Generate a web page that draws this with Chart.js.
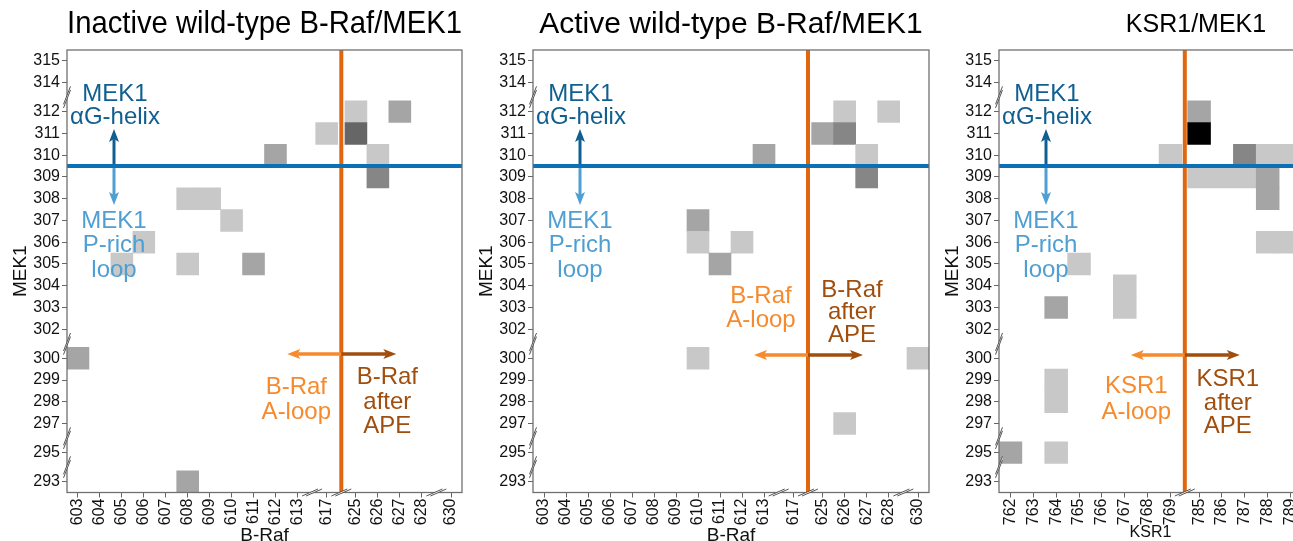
<!DOCTYPE html>
<html><head><meta charset="utf-8">
<script src="https://cdn.jsdelivr.net/npm/chart.js@4.4.1/dist/chart.umd.min.js"></script>
<style>
html,body{margin:0;padding:0;background:#fff;width:1293px;height:541px;overflow:hidden;position:relative}
canvas{position:absolute;top:0}
</style></head><body>
<canvas id="c1" width="470" height="560" style="left:0px"></canvas>
<canvas id="c2" width="470" height="560" style="left:466px"></canvas>
<canvas id="c3" width="375" height="560" style="left:932px"></canvas>
<script>
// ---------- axis categories ----------
const mek1Residues = [315,314,312,311,310,309,308,307,306,305,304,303,302,300,299,298,297,295,293];
const brafResidues = [603,604,605,606,607,608,609,610,611,612,613,617,625,626,627,628,630];
const ksr1Residues = [762,763,764,765,766,767,768,769,785,786,787,788,789];

// ---------- cells (x residue, MEK1 residue, contact level 1..5) ----------
const inactiveBRaf  = [625,627,617,625,612,626,626,608,609,610,606,605,608,611,603,608];
const inactiveMEK1  = [312,312,311,311,310,310,309,308,308,307,306,305,305,305,300,293];
const inactiveLevel = [1,2,1,4,2,1,3,1,1,1,1,1,1,2,2,2];

const activeBRaf  = [626,628,625,626,613,627,627,610,610,612,611,610,630,626];
const activeMEK1  = [312,312,311,311,310,310,309,307,306,306,305,300,300,297];
const activeLevel = [1,1,2,3,2,1,3,2,1,1,2,1,1,1];

const ksrKSR1  = [785,785,769,787,788,789,785,786,787,788,788,788,789,765,767,764,767,764,764,762,764];
const ksrMEK1  = [312,311,310,310,310,310,309,309,309,309,308,306,306,305,304,303,303,299,298,295,295];
const ksrLevel = [2,5,1,3,1,1,1,1,1,2,2,1,1,1,1,2,1,1,1,2,1];

const FONT = '"Liberation Sans", Arial, Helvetica, sans-serif';
const shadeColors = {1:'#c8c8c8', 2:'#a5a5a5', 3:'#868686', 4:'#666666', 5:'#000000'};
const BLUE = '#0b70b5', ORANGE = '#e0670f';
const DARKBLUE = '#105f90', LIGHTBLUE = '#4f9fd3', LIGHTORANGE = '#f68a2c', DARKORANGE = '#a04e0d';

function axisPositions(res, brk) {
  const out = []; let p = 0;
  res.forEach((r, i) => { if (i > 0) p += (Math.abs(r - res[i-1]) > 1 ? brk : 1); out.push(p); });
  return out;
}

function arrow(ctx, x1, y1, x2, y2, color, w, hl, hw) {
  const ang = Math.atan2(y2 - y1, x2 - x1);
  const c = Math.cos(ang), s = Math.sin(ang);
  const bx = x2 - hl * c, by = y2 - hl * s;
  ctx.save();
  ctx.strokeStyle = color; ctx.fillStyle = color; ctx.lineWidth = w;
  ctx.beginPath(); ctx.moveTo(x1, y1); ctx.lineTo(bx + c, by + s); ctx.stroke();
  const nx = -s, ny = c;
  ctx.beginPath();
  ctx.moveTo(x2, y2);
  ctx.lineTo(bx + nx * hw / 2 - c * 2, by + ny * hw / 2 - s * 2);
  ctx.lineTo(bx + c, by + s);
  ctx.lineTo(bx - nx * hw / 2 - c * 2, by - ny * hw / 2 - s * 2);
  ctx.closePath(); ctx.fill();
  ctx.restore();
}

function textLines(ctx, lines, cx, ys, color, size) {
  ctx.save();
  ctx.fillStyle = color; ctx.font = (size || 24) + 'px ' + FONT;
  ctx.textAlign = 'center'; ctx.textBaseline = 'middle';
  lines.forEach((t, i) => ctx.fillText(t, cx, ys[i]));
  ctx.restore();
}

function breakMarks(ctx, pts, horizontal) {
  ctx.save();
  ctx.strokeStyle = '#555'; ctx.lineWidth = 1;
  pts.forEach(([x, y]) => {
    let a, b, s;
    if (horizontal) { a = [-8, 3.5]; b = [8, -3.5]; s = [2, 0]; }
    else { a = [-3.5, 9]; b = [3.5, -9]; s = [0, 1.8]; }
    ctx.fillStyle = '#fff';
    ctx.beginPath();
    ctx.moveTo(x + a[0] - s[0], y + a[1] + s[1]);
    ctx.lineTo(x + b[0] - s[0], y + b[1] + s[1]);
    ctx.lineTo(x + b[0] + s[0], y + b[1] - s[1]);
    ctx.lineTo(x + a[0] + s[0], y + a[1] - s[1]);
    ctx.closePath(); ctx.fill();
    [-1, 1].forEach(k => {
      ctx.beginPath();
      ctx.moveTo(x + a[0] + k * s[0], y + a[1] - k * s[1]);
      ctx.lineTo(x + b[0] + k * s[0], y + b[1] - k * s[1]);
      ctx.stroke();
    });
  });
  ctx.restore();
}

const panels = [
  { id: 'c1', title: 'Inactive wild-type B-Raf/MEK1', titleSize: 30.5, titleByPlugin: false, xRes: brafResidues, xBreak: 4/3,
    xTitle: 'B-Raf', xTitleSize: 19, xTitlePad: 13, padRight: 8,
    cx: inactiveBRaf, cy: inactiveMEK1, lv: inactiveLevel, apeLeft: 617, apeRight: 625,
    orange: { arrowY: 304, light: ['B-Raf','A-loop'], lightDx: -45, lightY: [337.5, 362],
              dark: ['B-Raf','after','APE'], darkDx: 46, darkY: [327.5, 352, 376.5] } },
  { id: 'c2', title: 'Active wild-type B-Raf/MEK1', titleSize: 30, titleByPlugin: false, xRes: brafResidues, xBreak: 4/3,
    xTitle: 'B-Raf', xTitleSize: 19, xTitlePad: 13, padRight: 7,
    cx: activeBRaf, cy: activeMEK1, lv: activeLevel, apeLeft: 617, apeRight: 625,
    orange: { arrowY: 305, light: ['B-Raf','A-loop'], lightDx: -47, lightY: [246, 270.5],
              dark: ['B-Raf','after','APE'], darkDx: 44, darkY: [240, 262.5, 285.3] } },
  { id: 'c3', title: 'KSR1/MEK1', titleSize: 25, titleByPlugin: true, titleDx: 197, xRes: ksr1Residues, xBreak: 1.25,
    xTitle: 'KSR1', xTitleSize: 16, xTitlePad: 18, padRight: 5,
    cx: ksrKSR1, cy: ksrMEK1, lv: ksrLevel, apeLeft: 769, apeRight: 785,
    orange: { arrowY: 305, light: ['KSR1','A-loop'], lightDx: -48.5, lightY: [336, 362],
              dark: ['KSR1','after','APE'], darkDx: 43, darkY: [329, 353.5, 376.5] } }
];

panels.forEach(p => {
  const xPos = axisPositions(p.xRes, p.xBreak);
  const yPos = axisPositions(mek1Residues, 4/3);
  const xOf = r => xPos[p.xRes.indexOf(r)];
  const yOf = r => yPos[mek1Residues.indexOf(r)];
  const cells = p.cx.map((x, i) => ({ x: xOf(x), y: [yOf(p.cy[i]) - 0.5, yOf(p.cy[i]) + 0.5] }));
  const colors = p.lv.map(l => shadeColors[l]);
  const yMin = -0.5, yMax = yPos[yPos.length - 1] + 0.5;
  const xMin = -0.5, xMax = xPos[xPos.length - 1] + 0.5;
  const helixY = (yOf(310) + yOf(309)) / 2;
  const apeX = (xOf(p.apeLeft) + xOf(p.apeRight)) / 2;
  const yBreaks = [], xBreaks = [];
  mek1Residues.forEach((r, i) => { if (i > 0 && Math.abs(r - mek1Residues[i-1]) > 1) yBreaks.push((yPos[i] + yPos[i-1]) / 2); });
  p.xRes.forEach((r, i) => { if (i > 0 && Math.abs(r - p.xRes[i-1]) > 1) xBreaks.push((xPos[i] + xPos[i-1]) / 2); });
  const titlePad = (50 - p.titleSize * 1.2) / 2;

  const decor = {
    id: 'decor' + p.id,
    afterDatasetsDraw(chart) {
      const ctx = chart.ctx, a = chart.chartArea, xs = chart.scales.x, ys = chart.scales.y;
      ctx.save();
      ctx.strokeStyle = '#707070'; ctx.lineWidth = 1.3;
      ctx.strokeRect(a.left, a.top, a.right - a.left, a.bottom - a.top);
      ctx.restore();
      breakMarks(ctx, yBreaks.map(v => [a.left, ys.getPixelForValue(v)]), false);
      breakMarks(ctx, xBreaks.map(v => [xs.getPixelForValue(v), a.bottom]), true);
      const hy = ys.getPixelForValue(helixY);
      const bx = a.left + 47;
      arrow(ctx, bx, hy - 2, bx, hy - 37, DARKBLUE, 3, 11, 10);
      arrow(ctx, bx, hy + 2, bx, hy + 39, LIGHTBLUE, 3, 11, 10);
      textLines(ctx, ['MEK1', 'αG-helix'], bx + 1, [hy - 72, hy - 49], DARKBLUE);
      textLines(ctx, ['MEK1', 'P-rich', 'loop'], bx, [hy + 55, hy + 79.5, hy + 104], LIGHTBLUE);
      const ox = xs.getPixelForValue(apeX), o = p.orange;
      const ay = a.top + o.arrowY;
      arrow(ctx, ox, ay, ox - 54, ay, LIGHTORANGE, 3.5, 11, 10);
      arrow(ctx, ox, ay, ox + 55, ay, DARKORANGE, 3.5, 11, 10);
      textLines(ctx, o.light, ox + o.lightDx, o.lightY.map(v => a.top + v), LIGHTORANGE);
      textLines(ctx, o.dark, ox + o.darkDx, o.darkY.map(v => a.top + v), DARKORANGE);
      if (p.titleByPlugin) textLines(ctx, [p.title], a.left + p.titleDx, [25], '#000', p.titleSize);
    }
  };

  new Chart(document.getElementById(p.id), {
    type: 'bar',
    data: {
      datasets: [
        { type: 'line', data: [{ x: xMin, y: helixY }, { x: xMax, y: helixY }], borderColor: BLUE, borderWidth: 4, pointRadius: 0, order: 0 },
        { type: 'line', data: [{ x: apeX, y: yMin }, { x: apeX, y: yMax }], borderColor: ORANGE, borderWidth: 4, pointRadius: 0, order: 0 },
        { type: 'bar', data: cells, backgroundColor: colors, borderWidth: 0, barPercentage: 1, categoryPercentage: 1, order: 1 }
      ]
    },
    options: {
      responsive: false, animation: false, events: [],
      layout: { padding: { left: 0, right: p.padRight, top: p.titleByPlugin ? 50 : 0, bottom: 0 } },
      plugins: {
        legend: { display: false }, tooltip: { enabled: false },
        title: { display: !p.titleByPlugin, text: p.title, fullSize: false, color: '#000',
                 font: { family: FONT, size: p.titleSize, weight: 'normal', lineHeight: 1.2 },
                 padding: { top: titlePad, bottom: titlePad } }
      },
      scales: {
        x: {
          type: 'linear', min: xMin, max: xMax, offset: false, bounds: 'data',
          afterBuildTicks: ax => { ax.ticks = xPos.map(v => ({ value: v })); },
          afterFit: ax => { ax.height = 67.5; ax.paddingLeft = 0; ax.paddingRight = 0; },
          ticks: { autoSkip: false, minRotation: 90, maxRotation: 90, padding: 1, color: '#111',
                   font: { family: FONT, size: 16 }, callback: (v, i) => String(p.xRes[i]) },
          grid: { display: true, drawOnChartArea: false, drawTicks: true, tickLength: 5, color: '#666', offset: false },
          border: { display: false },
          title: { display: true, text: p.xTitle, color: '#111', font: { family: FONT, size: p.xTitleSize }, padding: { top: 0, bottom: p.xTitlePad } }
        },
        y: {
          type: 'linear', min: yMin, max: yMax, reverse: true, bounds: 'data',
          afterBuildTicks: ax => { ax.ticks = yPos.map(v => ({ value: v })); },
          afterFit: ax => { ax.width = 67; ax.paddingTop = 0; ax.paddingBottom = 0; },
          ticks: { autoSkip: false, padding: 2, color: '#111', font: { family: FONT, size: 16 },
                   callback: (v, i) => String(mek1Residues[i]) },
          grid: { display: true, drawOnChartArea: false, drawTicks: true, tickLength: 5, color: '#666' },
          border: { display: false },
          title: { display: true, text: 'MEK1', color: '#111', font: { family: FONT, size: 19 }, padding: { top: 9, bottom: 0 } }
        }
      }
    },
    plugins: [decor]
  });
});
</script>
</body></html>
